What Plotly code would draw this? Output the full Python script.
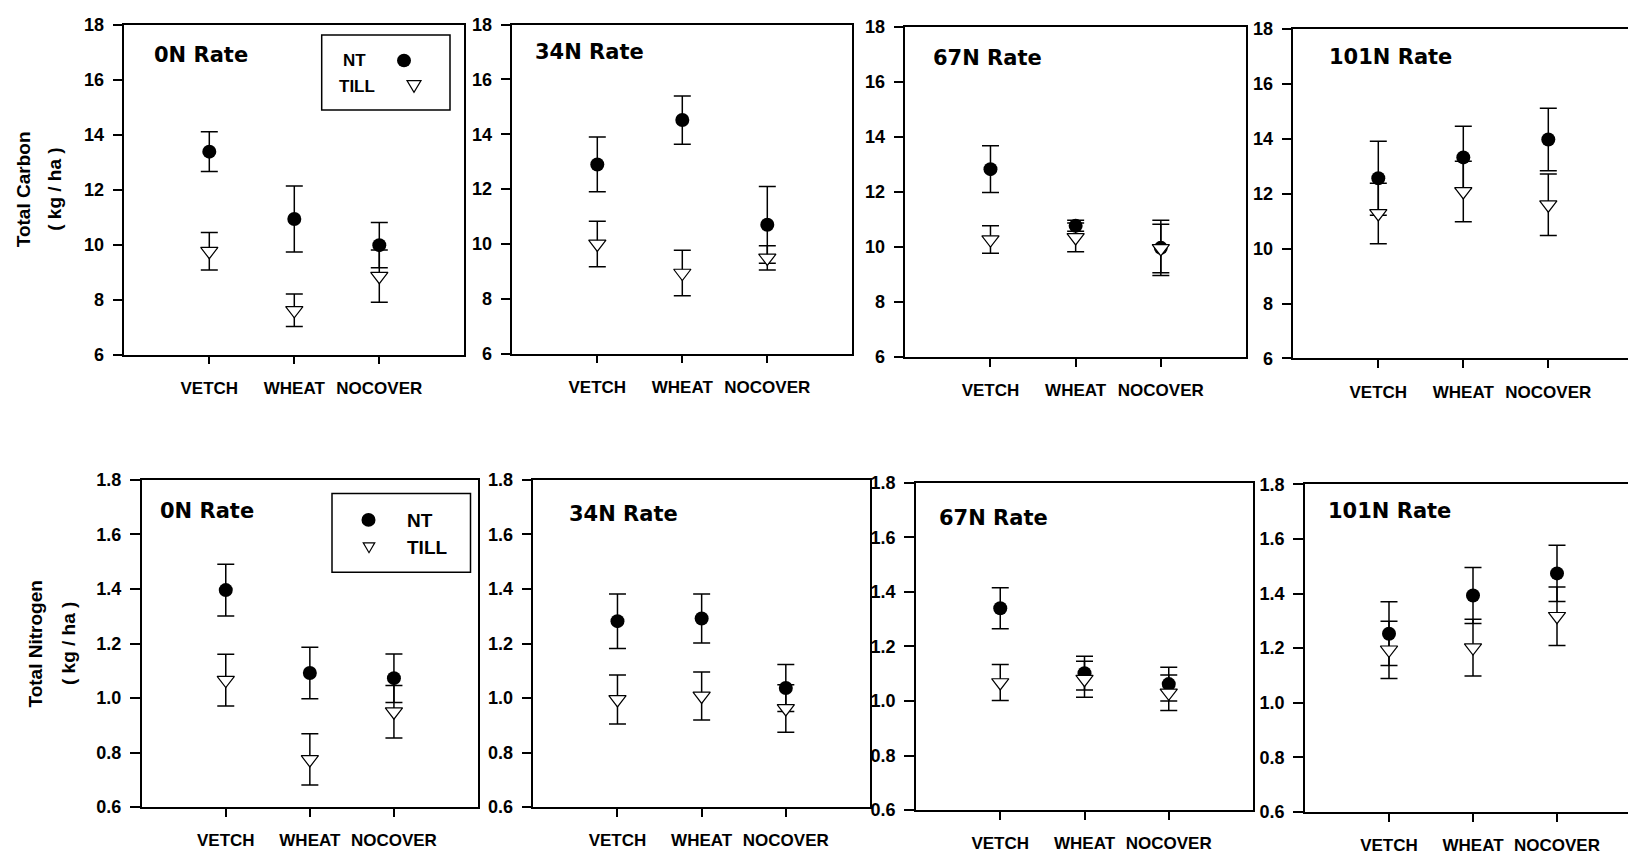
import plotly.graph_objects as go

# ---------------- data ----------------
categories = ["VETCH", "WHEAT", "NOCOVER"]
rates = ["0N Rate", "34N Rate", "67N Rate", "101N Rate"]

carbon_nt = [[13.38, 10.93, 9.98], [12.90, 14.52, 10.70], [12.83, 10.77, 9.97], [12.56, 13.32, 13.97]]
carbon_nt_err = [[0.72, 1.20, 0.82], [1.00, 0.88, 1.40], [0.85, 0.20, 1.00], [1.35, 1.13, 1.14]]
carbon_till = [[9.76, 7.61, 8.85], [10.00, 8.94, 9.49], [10.27, 10.35, 9.95], [11.28, 12.08, 11.60]]
carbon_till_err = [[0.68, 0.59, 0.95], [0.83, 0.83, 0.44], [0.50, 0.52, 0.88], [1.10, 1.10, 1.12]]

nitro_nt = [[1.396, 1.092, 1.073], [1.282, 1.292, 1.037], [1.340, 1.102, 1.062], [1.253, 1.393, 1.474]]
nitro_nt_err = [[0.095, 0.094, 0.089], [0.100, 0.090, 0.086], [0.075, 0.062, 0.062], [0.117, 0.103, 0.103]]
nitro_till = [[1.066, 0.775, 0.950], [0.995, 1.008, 0.962], [1.068, 1.080, 1.030], [1.194, 1.202, 1.317]]
nitro_till_err = [[0.095, 0.094, 0.096], [0.090, 0.088, 0.087], [0.066, 0.066, 0.065], [0.105, 0.104, 0.107]]

carbon_ticks = [6, 8, 10, 12, 14, 16, 18]
nitro_ticks = [0.6, 0.8, 1.0, 1.2, 1.4, 1.6, 1.8]

# ---------------- layout helpers ----------------
W, H = 1628, 867
FONT = "Liberation Sans, Arial, sans-serif"
TFONT = "DejaVu Sans, Liberation Sans, sans-serif"


def fx(px):
    return px / W


def fy(py):
    return 1 - py / H


# panel pixel boxes: left, right, top, bottom
top_boxes = [(124.3, 464.3, 15, 352.7), (512.3, 852.3, 15, 351.7),
             (905.3, 1246, 17.3, 355.3), (1293.3, 1633.3, 19.3, 356.7)]
bot_boxes = [(141.7, 478, 481, 816), (533.3, 870, 481, 816),
             (916, 1253, 484, 819), (1305, 1641, 485.7, 820.7)]
title_pos_top = [(151.7, 46.5), (532.7, 43.3), (930.7, 49), (1327.3, 48.3)]
title_pos_bot = [(158.3, 512.7), (567.3, 516), (937.3, 520), (1326, 513.3)]

fig = go.Figure()
layout = dict(width=W, height=H, margin=dict(l=0, r=0, t=0, b=0),
              paper_bgcolor="white", plot_bgcolor="white", showlegend=False,
              annotations=[], shapes=[])

panels = []
for i in range(4):
    panels.append((top_boxes[i], carbon_nt[i], carbon_nt_err[i], carbon_till[i], carbon_till_err[i],
                   [6, 18], carbon_ticks, "%d", rates[i], title_pos_top[i]))
for i in range(4):
    panels.append((bot_boxes[i], nitro_nt[i], nitro_nt_err[i], nitro_till[i], nitro_till_err[i],
                   [0.6, 1.8], nitro_ticks, "%.1f", rates[i], title_pos_bot[i]))

xcat = [1, 2, 3]
for k, (box, nt, nte, tl, tle, yr, yt, fmt, title, tpos) in enumerate(panels):
    n = k + 1
    L, R, T, B = box
    clipped = R > W
    right = min(R, W)
    xmax = 4 * (right - L) / (R - L)
    xa = "x" if n == 1 else f"x{n}"
    ya = "y" if n == 1 else f"y{n}"
    layout["xaxis" if n == 1 else f"xaxis{n}"] = dict(
        domain=[fx(L), fx(right)], range=[0, xmax], anchor=ya,
        tickmode="array", tickvals=xcat, ticktext=categories,
        ticks="outside", ticklen=8, tickwidth=1.5, tickcolor="black",
        showline=True, linecolor="black", linewidth=1.5, mirror=True,
        showgrid=False, zeroline=False, ticklabelstandoff=9,
        tickfont=dict(family=FONT, size=17, color="black", weight="bold"))
    layout["yaxis" if n == 1 else f"yaxis{n}"] = dict(
        domain=[fy(B), fy(T)], range=yr, anchor=xa,
        tickmode="array", tickvals=yt, ticktext=[fmt % v for v in yt],
        ticks="outside", ticklen=10, tickwidth=1.5, tickcolor="black",
        showline=True, linecolor="black", linewidth=1.5, mirror=not clipped,
        showgrid=False, zeroline=False, ticklabelstandoff=5,
        tickfont=dict(family=FONT, size=18, color="black", weight="bold"))

    fig.add_trace(go.Scatter(
        x=xcat, y=nt, mode="markers", xaxis=xa, yaxis=ya, name="NT",
        marker=dict(symbol="circle", size=14, color="black"),
        error_y=dict(type="data", array=nte, color="black", thickness=1.5, width=8.5)))
    fig.add_trace(go.Scatter(
        x=xcat, y=tl, mode="markers", xaxis=xa, yaxis=ya, name="TILL",
        marker=dict(symbol="triangle-down", size=15, color="white",
                    line=dict(color="black", width=1.2)),
        error_y=dict(type="data", array=tle, color="black", thickness=1.5, width=8.5)))

    layout["annotations"].append(dict(
        text=title, xref="paper", yref="paper", x=fx(tpos[0]), y=fy(tpos[1]),
        xanchor="left", yanchor="middle", showarrow=False,
        font=dict(family=TFONT, size=21, color="black", weight="bold")))

# y-axis titles
for txt, cx, cy in [("Total Carbon", 23.5, 184), ("( kg / ha )", 55, 184),
                    ("Total Nitrogen", 35.5, 649), ("( kg / ha )", 68, 649)]:
    layout["annotations"].append(dict(
        text=txt, xref="paper", yref="paper", x=fx(cx), y=fy(cy),
        xanchor="center", yanchor="middle", textangle=-90, showarrow=False,
        font=dict(family=FONT, size=19, color="black", weight="bold")))


# legends (decorations)
def circle_shape(cx, cy, d):
    return dict(type="circle", xref="paper", yref="paper",
                x0=fx(cx - d / 2), x1=fx(cx + d / 2), y0=fy(cy + d / 2), y1=fy(cy - d / 2),
                fillcolor="black", line=dict(color="black", width=0))


def tri_shape(cx, cy, w, h):
    p = (f"M {fx(cx - w / 2)} {fy(cy - h / 2)} L {fx(cx + w / 2)} {fy(cy - h / 2)} "
         f"L {fx(cx)} {fy(cy + h / 2)} Z")
    return dict(type="path", xref="paper", yref="paper", path=p,
                fillcolor="white", line=dict(color="black", width=1.2))


def box_shape(x0, x1, y0, y1):
    return dict(type="rect", xref="paper", yref="paper", x0=fx(x0), x1=fx(x1),
                y0=fy(y1), y1=fy(y0), fillcolor="white", line=dict(color="black", width=1.5),
                layer="above")


def legend_text(t, x, y, size):
    return dict(text=t, xref="paper", yref="paper", x=fx(x), y=fy(y), xanchor="left",
                yanchor="middle", showarrow=False,
                font=dict(family=FONT, size=size, color="black", weight="bold"))


# top legend: text then symbol
layout["shapes"] += [box_shape(321.7, 450, 25.7, 102.3),
                     circle_shape(404, 51.7, 14), tri_shape(414, 78.3, 14, 12)]
layout["annotations"] += [legend_text("NT", 341, 51.7, 17), legend_text("TILL", 337, 78.3, 17)]
# bottom legend: symbol then text
layout["shapes"] += [box_shape(332, 470.5, 495, 575.5),
                     circle_shape(368.5, 522, 14), tri_shape(369, 550.5, 11.5, 10)]
layout["annotations"] += [legend_text("NT", 405, 522.3, 19), legend_text("TILL", 405, 550.7, 19)]

fig.update_layout(**layout)
fig.write_html("out.html")
